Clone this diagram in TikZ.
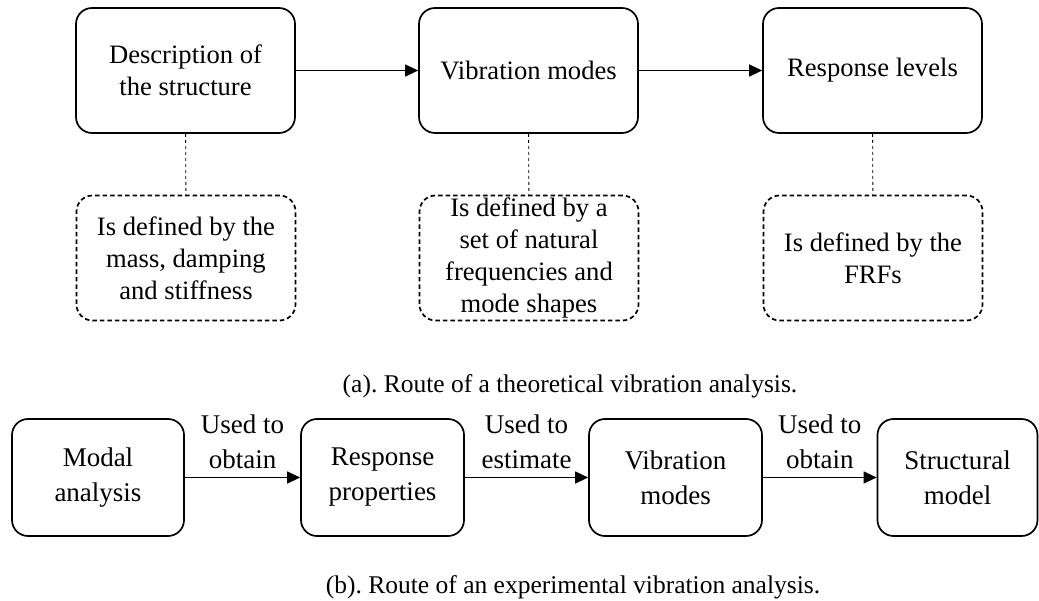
\documentclass[tikz,border=0pt]{standalone}
\usepackage{fontspec}
\setmainfont{Liberation Serif}
\usepackage{tikz}
\usetikzlibrary{shapes,arrows,positioning,calc,arrows.meta}
\frenchspacing

\begin{document}
\begin{tikzpicture}[x=1pt, y=-1pt,
    stage/.style={draw, line width=1.7pt, rounded corners=16pt, minimum width=219pt, minimum height=125pt,
                  align=center, inner sep=0pt, font=\fontsize{26.6}{32}\selectfont},
    note/.style={stage, dash pattern=on 4.5pt off 3pt},
    block/.style={draw, line width=1.7pt, rounded corners=16pt, minimum height=117pt,
                  align=center, inner sep=0pt, font=\fontsize{27}{35}\selectfont},
    flow/.style={-{Triangle[length=13pt,width=12pt]}, line width=1.2pt},
    link/.style={line width=0.9pt, dash pattern=on 3pt off 3pt},
    usedlabel/.style={above, align=center, inner xsep=2pt, inner ysep=8pt, font=\fontsize{27}{35}\selectfont},
    figcap/.style={font=\fontsize{25.5}{30}\selectfont}]
    \useasboundingbox (0,0) rectangle (1039,601);

    % (a) theoretical route
    \node[stage] (desc) at (185.5,70.5) {Description of\\the structure};
    \node[stage] (modes) at (528.5,70.5) {Vibration modes};
    \node[stage] (levels) at (872.5,70.5) {Response levels};

    \node[note] (descnote) at (186,258) {Is defined by the\\mass, damping\\and stiffness};
    \node[note] (modesnote) at (529,258) {Is defined by a\\set of natural\\frequencies and\\mode shapes};
    \node[note] (levelsnote) at (873,258) {Is defined by the\\FRFs};

    \draw[flow] (desc) -- (modes);
    \draw[flow] (modes) -- (levels);
    \draw[link] (desc) -- (descnote);
    \draw[link] (modes) -- (modesnote);
    \draw[link] (levels) -- (levelsnote);

    \node[figcap] (capa) at (570,386) {(a). Route of a theoretical vibration analysis.};

    % (b) experimental route
    \node[block, minimum width=172pt] (modal) at (98,477.5) {Modal\\analysis};
    \node[block, minimum width=163pt] (props) at (382.5,477.5) {Response\\properties};
    \node[block, minimum width=173pt] (vmodes) at (675.5,477.5) {Vibration\\modes};
    \node[block, minimum width=160pt] (model) at (957.5,477.5) {Structural\\model};

    \draw[flow] (modal) -- node[usedlabel] {Used to\\obtain} (props);
    \draw[flow] (props) -- node[usedlabel] {Used to\\estimate} (vmodes);
    \draw[flow] (vmodes) -- node[usedlabel] {Used to\\obtain} (model);

    \node[figcap] (capb) at (573,587) {(b). Route of an experimental vibration analysis.};
\end{tikzpicture}
\end{document}
